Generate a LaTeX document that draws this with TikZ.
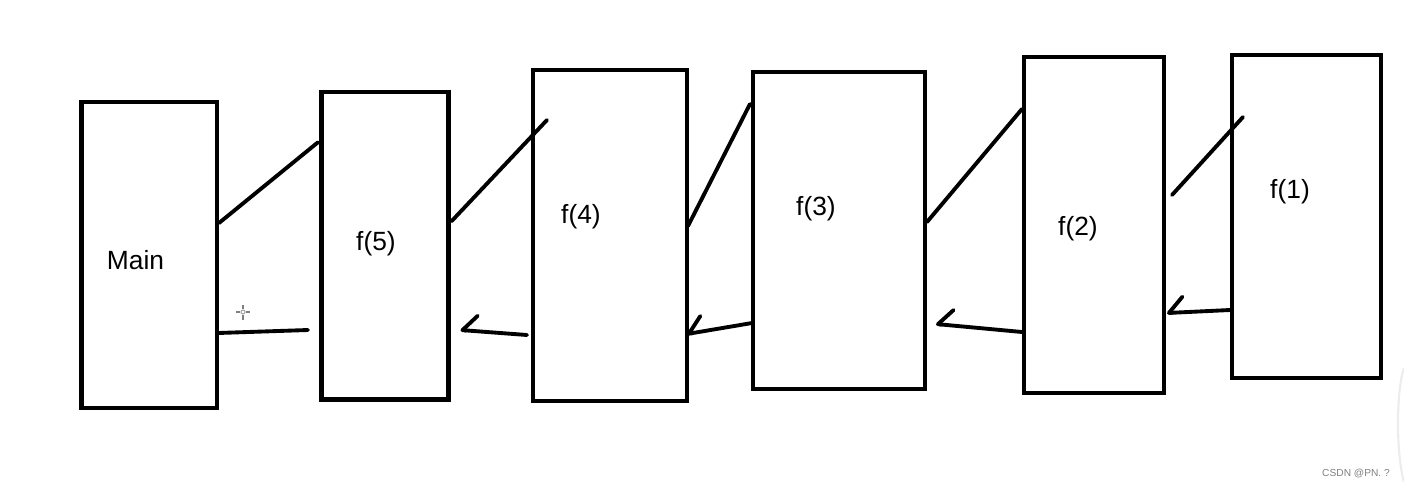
\documentclass[tikz,border=0pt]{standalone}
\usepackage{fontspec}
\setmainfont{Liberation Sans}
\usepackage{tikz}
\usetikzlibrary{calc}
\usetikzlibrary{arrows.meta}
\tikzset{
    callframe/.style 2 args={draw, line width=2.4pt, inner sep=0pt, outer sep=0pt,
        minimum width=#1*0.02cm, minimum height=#2*0.02cm},
    framename/.style={font=\fontsize{15}{17}\selectfont, inner sep=0pt},
    call/.style={line width=2.2pt, line cap=round},
    back/.style={line width=2.2pt, line cap=round,
        -{Straight Barb[right, angle=95:12pt, round]}},
}

\begin{document}
\begin{tikzpicture}[x=0.02cm, y=-0.02cm]
                \useasboundingbox (0,0) rectangle (1404,488);

                % the frames
                \node[callframe={135.5}{306}] (main) at (149.25,255) {};
                \node[callframe={127}{307.5}] (f5) at (385,245.75) {};
                \node[callframe={154}{331}] (f4) at (610,235.5) {};
                \node[callframe={172}{317}] (f3) at (839,230.5) {};
                \node[callframe={140}{336}] (f2) at (1094,225) {};
                \node[callframe={149}{323}] (f1) at (1306.5,216.5) {};

                % the names
                \node[framename] (mainname) at (135.5,260) {Main};
                \node[framename] (f5name) at (376,244) {f(5)};
                \node[framename] (f4name) at (581,217) {f(4)};
                \node[framename] (f3name) at (816,209) {f(3)};
                \node[framename] (f2name) at (1078,229) {f(2)};
                \node[framename] (f1name) at (1290,192) {f(1)};

                % main to f(5)
                \draw[call] ($(main.east)+(2,-32)$) -- ($(f5.west)+(-3.5,-103.5)$);
                % f(5) to f(4)
                \draw[call] ($(f5.east)+(3,-24.5)$) -- ($(f4.west)+(14,-115.5)$);
                % f(4) to f(3)
                \draw[call] ($(f4.east)+(1,-9.5)$) -- ($(f3.west)+(-3,-126.5)$);
                % f(3) to f(2)
                \draw[call] ($(f3.east)+(2,-8.5)$) -- ($(f2.west)+(-2,-116)$);
                % f(2) to f(1)
                \draw[call] ($(f2.east)+(8,-30)$) -- ($(f1.west)+(11,-99.5)$);

                % f(5) back to main
                \draw[call] ($(f5.west)+(-13.5,84.25)$) -- ($(main.east)+(1,78)$);
                % f(4) back to f(5)
                \draw[back] ($(f4.west)+(-6,99.5)$) -- ($(f5.east)+(12,84.25)$);
                % f(3) back to f(4)
                \draw[back] ($(f3.west)+(-1,92.5)$) -- ($(f4.east)+(0,98.5)$);
                % f(2) back to f(3)
                \draw[back] ($(f2.west)+(-2,107)$) -- ($(f3.east)+(11,93.5)$);
                % f(1) back to f(2)
                \draw[back] ($(f1.west)+(-2,93.5)$) -- ($(f2.east)+(3,88)$);

                % the cursor
                \draw[gray, line width=0.6pt] (236,312) -- (240,312) (246,312) -- (250,312)
                    (243,305) -- (243,309) (243,315) -- (243,320);
                \draw[gray!70, line width=0.6pt] (243,312) circle (2);

                % the scroll edge
                \draw[gray!15, line width=1.2pt] (1404,368) .. controls (1396,390) and (1396,455) .. (1404,482);

                % the mark
                \node[gray, font=\fontsize{5.8}{7}\selectfont, inner sep=0pt] (mark) at (1356,474) {CSDN @PN. ?};
            \end{tikzpicture}
\end{document}
